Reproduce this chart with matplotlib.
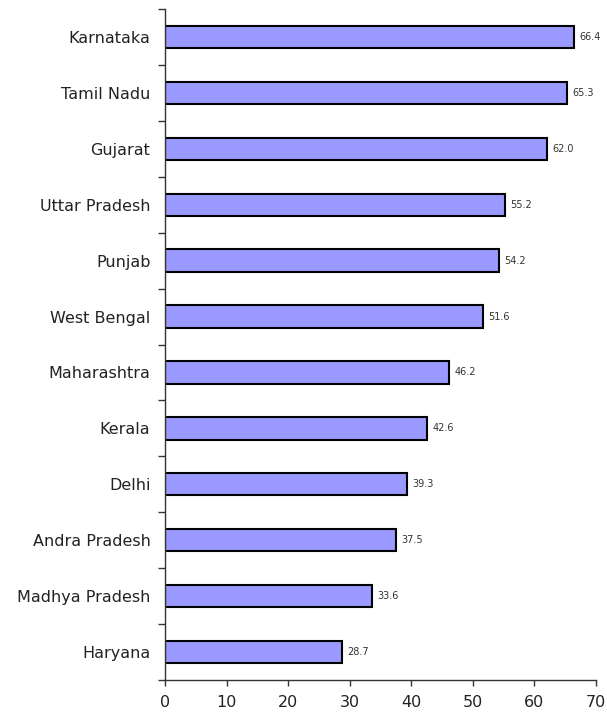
#!/usr/bin/env python3
"""Horizontal bar chart of values by Indian state."""

import matplotlib

matplotlib.use("Agg")

import matplotlib.pyplot as plt
import numpy as np
from matplotlib.ticker import FixedLocator, NullLocator

states = [
    "Karnataka",
    "Tamil Nadu",
    "Gujarat",
    "Uttar Pradesh",
    "Punjab",
    "West Bengal",
    "Maharashtra",
    "Kerala",
    "Delhi",
    "Andra Pradesh",
    "Madhya Pradesh",
    "Haryana",
]
values = [66.4, 65.3, 62.0, 55.2, 54.2, 51.6, 46.2, 42.6, 39.3, 37.5, 33.6, 28.7]
x_ticks = [0, 10, 20, 30, 40, 50, 60, 70]


def main() -> None:
    plt.rcParams["font.family"] = ["DejaVu Sans"]
    fig = plt.figure(figsize=(6.07, 7.17), dpi=100)
    ax = fig.add_axes([0.2718, 0.0516, 0.7101, 0.9358])

    y = np.arange(len(states))[::-1]
    ax.barh(y, values, height=0.4, color="#9999ff", edgecolor="black", linewidth=1.5)

    for yi, v in zip(y, values):
        ax.annotate(f"{v:.1f}", (v, yi), xytext=(4, 0), textcoords="offset points",
                    va="center", ha="left", fontsize=7, color="#333333")

    ax.set_xlim(0, 70)
    ax.set_ylim(-0.5, len(states) - 0.5)
    ax.set_xticks(x_ticks)
    ax.set_xticklabels([str(t) for t in x_ticks], fontsize=11.5, color="#222222")

    ax.set_yticks(y)
    ax.set_yticklabels(states, fontsize=11.5, color="#222222")
    ax.yaxis.set_minor_locator(FixedLocator(np.arange(-0.5, len(states), 1.0)))
    ax.tick_params(axis="y", which="major", length=0, pad=10.5)
    ax.tick_params(axis="y", which="minor", length=5, width=1, color="#333333")
    ax.tick_params(axis="x", which="major", length=4, width=1, pad=7, color="#333333")
    ax.xaxis.set_minor_locator(NullLocator())

    for side in ("top", "right"):
        ax.spines[side].set_visible(False)
    for side in ("left", "bottom"):
        ax.spines[side].set_linewidth(1.0)
        ax.spines[side].set_color("#333333")

    fig.savefig("out.png", dpi=100)
    plt.close(fig)


if __name__ == "__main__":
    main()
